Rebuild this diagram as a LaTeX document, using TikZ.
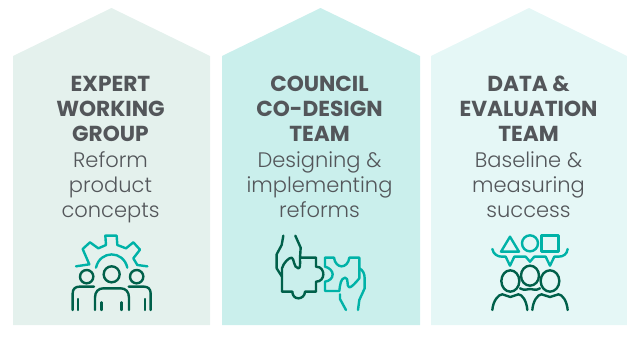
\documentclass[tikz,border=0pt]{standalone}
\usepackage{fontspec}
\setmainfont{Poppins}[UprightFont=* Light,BoldFont=* Bold]
\definecolor{fillA}{HTML}{E4F1ED}
\definecolor{fillB}{HTML}{CAEFEC}
\definecolor{fillC}{HTML}{E5F7F6}
\definecolor{darkg}{HTML}{00604A}
\definecolor{tealc}{HTML}{00B2A7}
\definecolor{txt}{HTML}{53565A}
\tikzset{
  label text/.style={text=txt,align=center,inner sep=0pt,font=\fontsize{21}{25}\selectfont},
  dk/.style={draw=darkg,line width=2.4pt,line cap=round,line join=round},
  tl/.style={draw=tealc,line width=2.4pt,line cap=round,line join=round},
  icon/.style={x=0.3333pt,y=-0.3333pt},
}
\newcommand{\ttl}[1]{{\fontsize{21.7}{25}\selectfont\bfseries #1}}
\newcommand{\lastl}[1]{#1\vphantom{Agp}}
\newcommand{\firstl}[1]{\vphantom{Agp}#1}
\begin{document}
\begin{tikzpicture}[x=1pt,y=-1pt]
\useasboundingbox (0,0) rectangle (627,346);
\fill[fillA] (13,56) -- (111.5,8) -- (210,56) -- (210,325) -- (13,325) -- cycle;
\fill[fillB] (222,56) -- (320.5,8) -- (420,56) -- (420,325) -- (222,325) -- cycle;
\fill[fillC] (431,56) -- (529,8) -- (627,56) -- (627,325) -- (431,325) -- cycle;
\node[label text] (a) at (110.5,149.5) {\firstl{\ttl{EXPERT}}\\\ttl{WORKING}\\\ttl{GROUP}\\[1pt]Reform\\product\\\lastl{concepts}};
\node[label text] (b) at (319.5,149.5) {\firstl{\ttl{COUNCIL}}\\\ttl{CO-DESIGN}\\\ttl{TEAM}\\[1pt]Designing \&\\implementing\\\lastl{reforms}};
\node[label text] (c) at (528.5,149.5) {\firstl{\ttl{DATA \&}}\\\ttl{EVALUATION}\\\ttl{TEAM}\\[1pt]Baseline \&\\measuring\\\lastl{success}};
% icon 1
\begin{scope}[shift={(50,225)},icon]
\draw[tl] (78,124) -- (118,118) -- (98,72) -- (120,52) -- (145,70) -- (168,60) -- (166,32) -- (200,32) -- (202,60) -- (228,70) -- (250,52) -- (270,74) -- (250,100) -- (262,120) -- (292,124);
\draw[tl] (138,128) .. controls (150,75) and (220,75) .. (232,128);
\draw[dk] (185,148) circle [radius=24];
\draw[dk] (110,155) circle [radius=20];
\draw[dk] (260,155) circle [radius=20];
\draw[dk] (135,255) -- (135,218) .. controls (135,200) and (145,190) .. (160,190) -- (212,190) .. controls (227,190) and (237,200) .. (237,218) -- (237,255);
\draw[dk] (155,232) -- (155,255) (215,232) -- (215,255);
\draw[dk] (68,255) -- (68,205) .. controls (68,192) and (76,185) .. (88,185) -- (132,185);
\draw[dk] (84,222) -- (84,255);
\draw[dk] (236,185) -- (282,185) .. controls (294,185) and (302,192) .. (302,205) -- (302,255);
\draw[dk] (285,222) -- (285,255);
\end{scope}
% icon 2
\begin{scope}[shift={(260,225)},icon]
\draw[dk] (122,98) -- (168,98) -- (168,125) .. controls (185,125) and (190,138) .. (190,148) .. controls (190,160) and (182,170) .. (168,170) -- (168,200) -- (135,200) .. controls (135,212) and (125,220) .. (115,220) .. controls (105,220) and (97,212) .. (97,200) -- (66,200) -- (66,130) .. controls (70,115) and (85,98) .. (95,98) .. controls (103,100) and (100,128) .. (115,130) .. controls (122,130) and (120,115) .. (120,100) -- (122,68) -- (106,32);
\draw[dk] (70,32) -- (65,60) -- (50,88) -- (50,130) -- (66,155);
\draw[tl] (195,98) -- (222,98) .. controls (224,115) and (235,124) .. (245,124) .. controls (255,124) and (266,115) .. (268,98) -- (298,98) -- (298,160) .. controls (285,175) and (275,187) .. (268,187) .. controls (258,185) and (268,158) .. (255,158) .. controls (242,160) and (240,180) .. (238,198) -- (195,198) -- (195,170) .. controls (208,168) and (218,160) .. (218,148) .. controls (218,138) and (208,128) .. (195,125) -- cycle;
\draw[tl] (298,130) .. controls (308,135) and (314,145) .. (314,160) -- (314,190) -- (298,225) -- (294,255);
\draw[tl] (240,208) -- (240,222) -- (258,255);
\end{scope}
% icon 3
\begin{scope}[shift={(475,225)},icon]
\draw[tl] (105,35) -- (78,80) -- (132,80) -- cycle;
\draw[tl] (165,55) circle [radius=24];
\draw[tl] (200,32) rectangle (250,80);
\draw[tl] (52,72) .. controls (55,88) and (68,95) .. (80,95) -- (92,95) -- (105,122) -- (118,95) -- (152,95) -- (165,110) -- (178,95) -- (212,95) -- (225,122) -- (238,95) -- (250,95) .. controls (265,95) and (276,88) .. (278,72);
\draw[dk] (165,152) ellipse [x radius=27, y radius=30];
\draw[dk] (106,168) ellipse [x radius=27, y radius=32];
\draw[dk] (225,168) ellipse [x radius=28, y radius=32];
\draw[dk] (135,190) .. controls (150,198) and (155,192) .. (165,192) .. controls (175,192) and (182,198) .. (195,190);
\draw[dk] (52,255) .. controls (54,228) and (70,208) .. (82,208) .. controls (92,208) and (96,216) .. (106,216) .. controls (116,216) and (120,208) .. (130,208) .. controls (142,208) and (155,228) .. (157,255);
\draw[dk] (172,255) .. controls (174,228) and (188,208) .. (200,208) .. controls (210,208) and (214,216) .. (225,216) .. controls (236,216) and (240,208) .. (250,208) .. controls (262,208) and (276,228) .. (278,255);
\end{scope}
\end{tikzpicture}
\end{document}
